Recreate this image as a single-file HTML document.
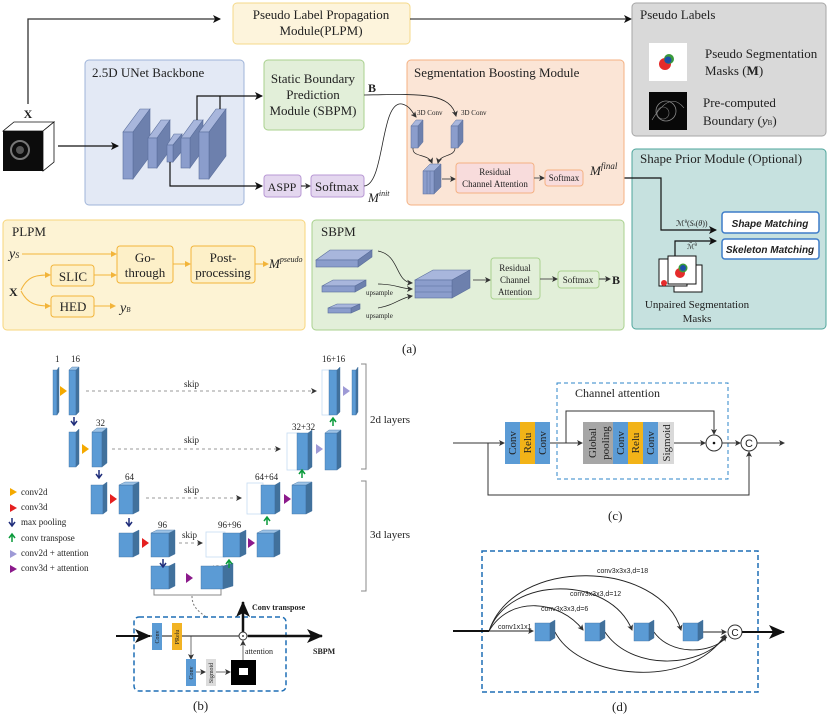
<!DOCTYPE html>
<html><head><meta charset="utf-8"><style>
html,body{margin:0;padding:0;background:#fff}
svg{display:block}
text{font-family:"Liberation Serif",serif;fill:#222}
.s{font-family:"Liberation Sans",sans-serif}
</style></head><body>
<svg width="830" height="720" viewBox="0 0 830 720" xmlns="http://www.w3.org/2000/svg">
<defs>
<marker id="ah" markerWidth="8" markerHeight="8" refX="7" refY="4" orient="auto" markerUnits="userSpaceOnUse"><path d="M0,0 L8,4 L0,8 L2,4z" fill="#111"/></marker>
<marker id="ahs" markerWidth="6" markerHeight="6" refX="5" refY="3" orient="auto" markerUnits="userSpaceOnUse"><path d="M0,0 L6,3 L0,6 L1.5,3z" fill="#333"/></marker>
<marker id="aho" markerWidth="6" markerHeight="6" refX="5" refY="3" orient="auto" markerUnits="userSpaceOnUse"><path d="M0,0 L6,3 L0,6z" fill="#f2b43a"/></marker>
<marker id="ahb" markerWidth="16" markerHeight="14" refX="15" refY="7" orient="auto" markerUnits="userSpaceOnUse"><path d="M0,0 L16,7 L0,14 L4,7z" fill="#111"/></marker>
</defs>

<!-- ===== (a) ===== -->
<polyline points="28,104 28,19 220,19" fill="none" stroke="#333" stroke-width="1.3" marker-end="url(#ah)"/>
<rect x="233" y="3" width="177" height="41" rx="4" fill="#fdf4dc" stroke="#f5d98a"/>
<text x="321" y="19" font-size="13" text-anchor="middle">Pseudo Label Propagation</text>
<text x="321" y="35" font-size="13" text-anchor="middle">Module(PLPM)</text>
<line x1="410" y1="19" x2="631" y2="19" stroke="#111" stroke-width="1" marker-end="url(#ah)"/>

<rect x="632" y="3" width="194" height="133" rx="4" fill="#d9d9d9" stroke="#a6a6a6"/>
<text x="640" y="19" font-size="13">Pseudo Labels</text>
<rect x="649" y="43" width="38" height="38" fill="#fff"/>
<circle cx="665" cy="64" r="6" fill="#e52b2b"/><circle cx="669" cy="59" r="5" fill="#3a9a3a"/><circle cx="668" cy="60" r="3.5" fill="#1d4fa8"/>
<text x="705" y="58" font-size="13">Pseudo Segmentation</text>
<text x="705" y="75" font-size="13">Masks (<tspan font-weight="bold">M</tspan>)</text>
<rect x="649" y="92" width="38" height="38" fill="#080808"/>
<circle cx="666" cy="111" r="10" fill="none" stroke="#888" stroke-width="0.8"/><circle cx="663" cy="113" r="6" fill="none" stroke="#777" stroke-width="0.6"/><path d="M652,120 Q670,90 684,108" fill="none" stroke="#999" stroke-width="0.6"/>
<text x="703" y="107" font-size="13">Pre-computed</text>
<text x="703" y="125" font-size="13">Boundary (<tspan font-style="italic">y</tspan><tspan font-size="7">B</tspan>)</text>

<rect x="632" y="149" width="194" height="180" rx="4" fill="#c6e1df" stroke="#4ea59b"/>
<text x="640" y="163" font-size="13">Shape Prior Module (Optional)</text>
<rect x="722" y="212" width="97" height="21" rx="3" fill="#fff" stroke="#3d7cc9" stroke-width="1.5"/>
<text x="770" y="227" font-size="10" class="s" font-weight="bold" font-style="italic" text-anchor="middle">Shape Matching</text>
<rect x="722" y="239" width="97" height="20" rx="3" fill="#fff" stroke="#3d7cc9" stroke-width="1.5"/>
<text x="770" y="253" font-size="10" class="s" font-weight="bold" font-style="italic" text-anchor="middle">Skeleton Matching</text>
<text x="676" y="226" font-size="8">ℳ<tspan font-size="5" dy="-3">θ</tspan><tspan dy="3">(</tspan><tspan font-style="italic">S</tspan><tspan font-size="5">s</tspan>(<tspan font-style="italic">θ</tspan>))</text>
<text x="687" y="249" font-size="7">ℳ̃<tspan font-size="5" dy="-3">θ</tspan></text>
<polyline points="584,178 661,178 661,230 716,230" fill="none" stroke="#111" stroke-width="1.2" marker-end="url(#ah)"/>
<polyline points="675,258 675,241 716,241" fill="none" stroke="#111" stroke-width="1.2" marker-end="url(#ah)"/>
<rect x="674" y="265" width="28" height="27" fill="#fff" stroke="#111"/>
<rect x="659" y="259" width="28" height="27" fill="#fff" stroke="#111"/>
<circle cx="664" cy="283" r="3" fill="#e52b2b"/>
<rect x="668" y="256" width="28" height="28" fill="#fff" stroke="#111"/>
<circle cx="680" cy="273" r="5" fill="#e52b2b"/><circle cx="683" cy="268" r="4.5" fill="#3a9a3a"/><circle cx="683" cy="268" r="3" fill="#1d4fa8"/>
<text x="697" y="308" font-size="11" text-anchor="middle">Unpaired Segmentation</text>
<text x="697" y="322" font-size="11" text-anchor="middle">Masks</text>

<!-- UNet backbone -->
<rect x="85" y="60" width="159" height="145" rx="4" fill="#e3e9f5" stroke="#9fb4d9"/>
<text x="92" y="77" font-size="13">2.5D UNet Backbone</text>
<!-- input cube -->
<polygon points="3,131 14,122 54,122 43,131" fill="#fff" stroke="#111" stroke-width="0.8"/>
<polygon points="43,131 54,122 54,162 43,171" fill="#fff" stroke="#111" stroke-width="0.8"/>
<rect x="3" y="131" width="40" height="40" fill="#0c0c0c"/>
<circle cx="20" cy="150" r="9" fill="none" stroke="#777" stroke-width="2"/><circle cx="20" cy="150" r="4" fill="#555"/>
<text x="28" y="118" font-size="12" font-weight="bold" text-anchor="middle">X</text>
<line x1="58" y1="146" x2="118" y2="146" stroke="#111" stroke-width="1.2" marker-end="url(#ah)"/>
<g stroke="#5a6e9c" stroke-width="0.6">
<polygon points="123,132 140,109 150,109 133,132" fill="#a8b6dc"/><polygon points="133,132 150,109 150,156 133,179" fill="#6d80ad"/><rect x="123" y="132" width="10" height="47" fill="#8b9dcc"/>
<polygon points="148,138 161,120 170,120 157,138" fill="#a8b6dc"/><polygon points="157,138 170,120 170,150 157,168" fill="#6d80ad"/><rect x="148" y="138" width="9" height="30" fill="#8b9dcc"/>
<polygon points="167,145 174,134 182,134 173,145" fill="#a8b6dc"/><polygon points="173,145 182,134 182,151 173,162" fill="#6d80ad"/><rect x="167" y="145" width="6" height="17" fill="#8b9dcc"/>
<polygon points="181,138 194,120 203,120 190,138" fill="#a8b6dc"/><polygon points="190,138 203,120 203,150 190,168" fill="#6d80ad"/><rect x="181" y="138" width="9" height="30" fill="#8b9dcc"/>
<polygon points="199,132 216,109 226,109 209,132" fill="#a8b6dc"/><polygon points="209,132 226,109 226,156 209,179" fill="#6d80ad"/><rect x="199" y="132" width="10" height="47" fill="#8b9dcc"/>
</g>
<polyline points="197,120 197,96 262,96" fill="none" stroke="#111" stroke-width="1.2" marker-end="url(#ah)"/>
<line x1="220" y1="109" x2="220" y2="96" stroke="#111" stroke-width="1.2"/>
<polyline points="170,162 170,186 262,186" fill="none" stroke="#111" stroke-width="1.2" marker-end="url(#ah)"/>
<rect x="264" y="60" width="100" height="70" rx="4" fill="#e2efd9" stroke="#a9d18e"/>
<text x="313" y="83" font-size="13" text-anchor="middle">Static Boundary</text>
<text x="313" y="99" font-size="13" text-anchor="middle">Prediction</text>
<text x="313" y="115" font-size="13" text-anchor="middle">Module (SBPM)</text>
<text x="368" y="92" font-size="12" font-weight="bold">B</text>
<rect x="264" y="175" width="37" height="22" rx="3" fill="#e4d7ef" stroke="#b898d4"/>
<text x="282" y="191" font-size="12" text-anchor="middle">ASPP</text>
<line x1="301" y1="186" x2="310" y2="186" stroke="#111" marker-end="url(#ahs)"/>
<rect x="311" y="175" width="53" height="22" rx="3" fill="#e4d7ef" stroke="#b898d4"/>
<text x="337" y="191" font-size="13" text-anchor="middle">Softmax</text>
<text x="368" y="202" font-size="13" font-style="italic">M<tspan font-size="8" dy="-6">init</tspan></text>

<!-- Segmentation boosting -->
<rect x="407" y="60" width="217" height="145" rx="4" fill="#fbe5d6" stroke="#f4b183"/>
<text x="414" y="77" font-size="13">Segmentation Boosting Module</text>
<path d="M364,186 C385,185 380,100 402,104 C410,106 412,112 416,117" fill="none" stroke="#222" stroke-width="0.8" marker-end="url(#ahs)"/>
<path d="M364,95 C420,94 450,92 456,116" fill="none" stroke="#222" stroke-width="0.8" marker-end="url(#ahs)"/>
<text x="417" y="115" font-size="7">3D Conv</text><text x="461" y="115" font-size="7">3D Conv</text>
<g stroke="#5a6e9c" stroke-width="0.5">
<polygon points="411,126 416,120 423,120 418,126" fill="#a8b6dc"/><polygon points="418,126 423,120 423,142 418,148" fill="#6d80ad"/><rect x="411" y="126" width="7" height="22" fill="#8b9dcc"/>
<polygon points="451,126 456,120 463,120 458,126" fill="#a8b6dc"/><polygon points="458,126 463,120 463,142 458,148" fill="#6d80ad"/><rect x="451" y="126" width="7" height="22" fill="#8b9dcc"/>
<polygon points="423,171 430,164 441,164 434,171" fill="#a8b6dc"/><polygon points="434,171 441,164 441,187 434,194" fill="#6d80ad"/><rect x="423" y="171" width="11" height="23" fill="#8b9dcc"/><line x1="427" y1="171" x2="427" y2="194"/><line x1="430" y1="171" x2="430" y2="194"/>
</g>
<path d="M413,148 C412,158 428,153 432,163" fill="none" stroke="#222" stroke-width="0.7" marker-end="url(#ahs)"/>
<path d="M455,148 C455,157 440,154 438,163" fill="none" stroke="#222" stroke-width="0.7" marker-end="url(#ahs)"/>
<line x1="442" y1="179" x2="455" y2="179" stroke="#555" marker-end="url(#ahs)"/>
<rect x="456" y="163" width="78" height="30" rx="3" fill="#f8dcdc" stroke="#f4b183"/>
<text x="495" y="175" font-size="9" text-anchor="middle">Residual</text>
<text x="495" y="187" font-size="9" text-anchor="middle">Channel Attention</text>
<line x1="534" y1="178" x2="544" y2="178" stroke="#555" marker-end="url(#ahs)"/>
<rect x="545" y="170" width="38" height="16" rx="3" fill="#f8dcdc" stroke="#f4b183"/>
<text x="564" y="181" font-size="9" text-anchor="middle">Softmax</text>
<text x="590" y="175" font-size="13" font-style="italic">M<tspan font-size="9" dy="-6">final</tspan></text>

<!-- PLPM lower -->
<rect x="3" y="220" width="302" height="110" rx="4" fill="#fdf3d4" stroke="#f7d57b"/>
<text x="12" y="236" font-size="13">PLPM</text>
<text x="9" y="258" font-size="14" font-style="italic">y<tspan font-size="8">S</tspan></text>
<line x1="22" y1="254" x2="116" y2="254" stroke="#f2b43a" stroke-width="1" marker-end="url(#aho)"/>
<rect x="117" y="246" width="56" height="37" rx="3" fill="#fdf0c8" stroke="#f2b43a"/>
<text x="145" y="262" font-size="13" text-anchor="middle">Go-</text>
<text x="145" y="277" font-size="13" text-anchor="middle">through</text>
<line x1="173" y1="264" x2="190" y2="264" stroke="#f2b43a" marker-end="url(#aho)"/>
<rect x="191" y="246" width="64" height="37" rx="3" fill="#fdf0c8" stroke="#f2b43a"/>
<text x="223" y="262" font-size="13" text-anchor="middle">Post-</text>
<text x="223" y="277" font-size="13" text-anchor="middle">processing</text>
<line x1="255" y1="264" x2="268" y2="264" stroke="#f2b43a" marker-end="url(#aho)"/>
<text x="269" y="268" font-size="13" font-style="italic">M<tspan font-size="8" dy="-6">pseudo</tspan></text>
<rect x="51" y="265" width="43" height="21" rx="3" fill="#fdf0c8" stroke="#f2b43a"/>
<text x="73" y="281" font-size="13" text-anchor="middle">SLIC</text>
<line x1="94" y1="275" x2="116" y2="275" stroke="#f2b43a" marker-end="url(#aho)"/>
<rect x="51" y="296" width="43" height="21" rx="3" fill="#fdf0c8" stroke="#f2b43a"/>
<text x="73" y="311" font-size="13" text-anchor="middle">HED</text>
<line x1="94" y1="306" x2="115" y2="306" stroke="#f2b43a" marker-end="url(#aho)"/>
<text x="120" y="312" font-size="14" font-style="italic">y<tspan font-size="7">B</tspan></text>
<text x="9" y="296" font-size="12" font-weight="bold">X</text>
<path d="M21,290 C28,275 38,275 50,275" fill="none" stroke="#f2b43a" marker-end="url(#aho)"/>
<path d="M21,291 C28,305 38,306 50,306" fill="none" stroke="#f2b43a" marker-end="url(#aho)"/>

<!-- SBPM lower -->
<rect x="312" y="220" width="312" height="110" rx="4" fill="#e2efd9" stroke="#a9d18e"/>
<text x="321" y="236" font-size="13">SBPM</text>
<g stroke="#5a6e9c" stroke-width="0.6">
<polygon points="316,260 330,250 372,250 358,260" fill="#a8b6dc"/><polygon points="358,260 372,250 372,257 358,267" fill="#6d80ad"/><rect x="316" y="260" width="42" height="7" fill="#8b9dcc"/>
<polygon points="322,286 333,280 366,280 355,286" fill="#a8b6dc"/><polygon points="355,286 366,280 366,286 355,292" fill="#6d80ad"/><rect x="322" y="286" width="33" height="6" fill="#8b9dcc"/>
<polygon points="328,308 337,304 360,304 351,308" fill="#a8b6dc"/><polygon points="351,308 360,304 360,309 351,313" fill="#6d80ad"/><rect x="328" y="308" width="23" height="5" fill="#8b9dcc"/>
<polygon points="415,280 433,270 470,270 452,280" fill="#a8b6dc"/><polygon points="452,280 470,270 470,288 452,298" fill="#6d80ad"/><rect x="415" y="280" width="37" height="18" fill="#8b9dcc"/>
<line x1="415" y1="286" x2="452" y2="286"/><line x1="415" y1="292" x2="452" y2="292"/>
</g>
<path d="M378,251 C400,255 395,282 412,283" fill="none" stroke="#222" stroke-width="0.7" marker-end="url(#ahs)"/>
<path d="M378,284 C395,284 402,289 412,289" fill="none" stroke="#222" stroke-width="0.7" marker-end="url(#ahs)"/>
<path d="M378,308 C395,305 400,298 412,296" fill="none" stroke="#222" stroke-width="0.7" marker-end="url(#ahs)"/>
<text x="366" y="295" font-size="7">upsample</text>
<text x="366" y="318" font-size="7">upsample</text>
<line x1="473" y1="280" x2="490" y2="280" stroke="#555" marker-end="url(#ahs)"/>
<rect x="491" y="258" width="49" height="41" rx="3" fill="#e2efd9" stroke="#a9d18e"/>
<text x="515" y="271" font-size="9" text-anchor="middle">Residual</text>
<text x="515" y="283" font-size="9" text-anchor="middle">Channel</text>
<text x="515" y="295" font-size="9" text-anchor="middle">Attention</text>
<line x1="540" y1="279" x2="557" y2="279" stroke="#555" marker-end="url(#ahs)"/>
<rect x="558" y="271" width="41" height="17" rx="3" fill="#e2efd9" stroke="#a9d18e"/>
<text x="578" y="283" font-size="9" text-anchor="middle">Softmax</text>
<line x1="599" y1="279" x2="610" y2="279" stroke="#333" marker-end="url(#ahs)"/>
<text x="612" y="284" font-size="12" font-weight="bold">B</text>

<text x="402" y="353" font-size="13">(a)</text>

<!-- ===== (b) ===== -->
<g font-size="9">
<text x="55" y="362">1</text><text x="71" y="362">16</text><text x="96" y="426">32</text><text x="125" y="480">64</text><text x="158" y="528">96</text>
<text x="322" y="362">16+16</text><text x="292" y="430">32+32</text><text x="255" y="480">64+64</text><text x="218" y="528">96+96</text><text x="211" y="572">128</text>
<text x="184" y="387">skip</text><text x="184" y="443">skip</text><text x="184" y="493">skip</text><text x="182" y="538">skip</text>
</g>
<g stroke="#777" stroke-width="0.8" stroke-dasharray="3,3" fill="none">
<line x1="86" y1="391" x2="316" y2="391" marker-end="url(#ahs)"/>
<line x1="112" y1="449" x2="280" y2="449" marker-end="url(#ahs)"/>
<line x1="146" y1="498" x2="241" y2="498" marker-end="url(#ahs)"/>
<line x1="179" y1="543" x2="202" y2="543" marker-end="url(#ahs)"/>
</g>
<g stroke="#c6dcf2" stroke-width="0.8" fill="#fff">
<rect x="322" y="370" width="9" height="45"/><rect x="287" y="433" width="12" height="37"/><rect x="247" y="483" width="16" height="31"/><rect x="206" y="532" width="19" height="25"/>
</g>
<g stroke="#3f6f9e" stroke-width="0.4">
<!-- helper shape: front + side + top -->
<rect x="53" y="370" width="4" height="45" fill="#5b9bd5"/><polygon points="57,370 59,367 59,412 57,415" fill="#41719c"/>
<rect x="69" y="370" width="7" height="45" fill="#5b9bd5"/><polygon points="76,370 79,367 79,412 76,415" fill="#41719c"/><polygon points="69,370 72,367 79,367 76,370" fill="#9dc3e6"/>
<rect x="69" y="432" width="7" height="35" fill="#5b9bd5"/><polygon points="76,432 79,429 79,464 76,467" fill="#41719c"/>
<rect x="92" y="432" width="10" height="35" fill="#5b9bd5"/><polygon points="102,432 107,428 107,463 102,467" fill="#41719c"/><polygon points="92,432 97,428 107,428 102,432" fill="#9dc3e6"/>
<rect x="91" y="485" width="12" height="29" fill="#5b9bd5"/><polygon points="103,485 107,482 107,511 103,514" fill="#41719c"/>
<rect x="119" y="485" width="14" height="29" fill="#5b9bd5"/><polygon points="133,485 139,482 139,511 133,514" fill="#41719c"/><polygon points="119,485 125,482 139,482 133,485" fill="#9dc3e6"/>
<rect x="119" y="533" width="14" height="24" fill="#5b9bd5"/><polygon points="133,533 139,530 139,554 133,557" fill="#41719c"/>
<rect x="151" y="533" width="18" height="24" fill="#5b9bd5"/><polygon points="169,533 175,530 175,554 169,557" fill="#41719c"/><polygon points="151,533 157,530 175,530 169,533" fill="#9dc3e6"/>
<rect x="151" y="566" width="18" height="23" fill="#5b9bd5"/><polygon points="169,566 175,563 175,586 169,589" fill="#41719c"/>
<rect x="201" y="566" width="22" height="23" fill="#5b9bd5"/><polygon points="223,566 233,563 233,586 223,589" fill="#41719c"/>
<rect x="223" y="533" width="17" height="24" fill="#5b9bd5"/><polygon points="240,533 246,530 246,554 240,557" fill="#41719c"/>
<rect x="257" y="533" width="17" height="24" fill="#5b9bd5"/><polygon points="274,533 280,530 280,554 274,557" fill="#41719c"/><polygon points="257,533 263,530 280,530 274,533" fill="#9dc3e6"/>
<rect x="261" y="485" width="14" height="29" fill="#5b9bd5"/><polygon points="275,485 280,482 280,511 275,514" fill="#41719c"/>
<rect x="292" y="485" width="14" height="29" fill="#5b9bd5"/><polygon points="306,485 312,482 312,511 306,514" fill="#41719c"/><polygon points="292,485 298,482 312,482 306,485" fill="#9dc3e6"/>
<rect x="297" y="433" width="11" height="37" fill="#5b9bd5"/><polygon points="308,433 312,430 312,467 308,470" fill="#41719c"/>
<rect x="325" y="433" width="12" height="37" fill="#5b9bd5"/><polygon points="337,433 341,430 341,467 337,470" fill="#41719c"/><polygon points="325,433 329,430 341,430 337,433" fill="#9dc3e6"/>
<rect x="329" y="370" width="8" height="45" fill="#5b9bd5"/><polygon points="337,370 340,367 340,412 337,415" fill="#41719c"/>
<rect x="352" y="370" width="4" height="45" fill="#5b9bd5"/><polygon points="356,370 358,367 358,412 356,415" fill="#41719c"/>
</g>
<!-- triangles -->
<g>
<polygon points="60,386 60,396 67,391" fill="#f4a900"/><polygon points="82,444 82,454 89,449" fill="#f4a900"/>
<polygon points="110,494 110,504 117,499" fill="#e52020"/><polygon points="142,538 142,548 149,543" fill="#e52020"/>
<polygon points="186,573 186,583 193,578" fill="#8b1a8b"/><polygon points="248,538 248,548 255,543" fill="#8b1a8b"/><polygon points="284,494 284,504 291,499" fill="#8b1a8b"/>
<polygon points="316,444 316,454 323,449" fill="#9e9ad6"/><polygon points="343,386 343,396 350,391" fill="#9e9ad6"/>
</g>
<g stroke="#1f2d7a" stroke-width="1.5" fill="none">
<path d="M74,417 v7 M71,421 l3,4 l3,-4"/><path d="M99,470 v7 M96,474 l3,4 l3,-4"/><path d="M129,518 v7 M126,522 l3,4 l3,-4"/><path d="M163,559 v7 M160,563 l3,4 l3,-4"/>
</g>
<g stroke="#0a9a3a" stroke-width="1.5" fill="none">
<path d="M229,568 v-7 M226,564 l3,-4 l3,4"/><path d="M267,525 v-7 M264,521 l3,-4 l3,4"/><path d="M302,478 v-7 M299,474 l3,-4 l3,4"/><path d="M333,426 v-7 M330,422 l3,-4 l3,4"/>
</g>
<g stroke="#888" fill="none"><polyline points="361,364 366,364 366,469 361,469"/><polyline points="361,481 366,481 366,591 361,591"/></g>
<text x="370" y="423" font-size="11">2d layers</text>
<text x="370" y="538" font-size="11">3d layers</text>
<g font-size="9">
<polygon points="10,488 10,496 17,492" fill="#f4a900"/><text x="21" y="495">conv2d</text>
<polygon points="10,504 10,512 17,508" fill="#e52020"/><text x="21" y="510">conv3d</text>
<path d="M12,518 v8 M9,522 l3,4 l3,-4" stroke="#1f2d7a" stroke-width="1.5" fill="none"/><text x="21" y="525">max pooling</text>
<path d="M12,542 v-8 M9,538 l3,-4 l3,4" stroke="#0a9a3a" stroke-width="1.5" fill="none"/><text x="21" y="541">conv transpose</text>
<polygon points="10,550 10,558 17,554" fill="#9e9ad6"/><text x="21" y="556">conv2d + attention</text>
<polygon points="10,565 10,573 17,569" fill="#8b1a8b"/><text x="21" y="571">conv3d + attention</text>
</g>
<polyline points="154,589 154,595 221,595 221,589" fill="none" stroke="#888"/>
<path d="M192,596 C192,608 200,612 206,617" fill="none" stroke="#777" stroke-dasharray="2,2"/>
<rect x="134" y="617" width="152" height="74" rx="5" fill="none" stroke="#1f6fb5" stroke-width="1.5" stroke-dasharray="5,3"/>
<line x1="116" y1="636" x2="150" y2="636" stroke="#111" stroke-width="2" marker-end="url(#ahb)"/>
<line x1="150" y1="636" x2="322" y2="636" stroke="#111" stroke-width="1"/>
<line x1="248" y1="636" x2="322" y2="636" stroke="#111" stroke-width="2.5" marker-end="url(#ahb)"/>
<line x1="243" y1="632" x2="243" y2="602" stroke="#111" stroke-width="2.5" marker-end="url(#ahb)"/>
<rect x="152" y="623" width="10" height="27" fill="#5b9bd5"/><text transform="translate(159,637) rotate(-90)" font-size="6" text-anchor="middle">Conv</text>
<rect x="172" y="623" width="10" height="27" fill="#f2b324"/><text transform="translate(179,637) rotate(-90)" font-size="6" text-anchor="middle">PRelu</text>
<polyline points="191,636 191,659" fill="none" stroke="#333" stroke-width="0.7" marker-end="url(#ahs)"/>
<rect x="186" y="659" width="10" height="27" fill="#5b9bd5"/><text transform="translate(193,673) rotate(-90)" font-size="6" text-anchor="middle">Conv</text>
<rect x="206" y="659" width="10" height="27" fill="#dcdcdc"/><text transform="translate(213,673) rotate(-90)" font-size="6" text-anchor="middle">Sigmoid</text>
<line x1="196" y1="672" x2="205" y2="672" stroke="#333" stroke-width="0.7" marker-end="url(#ahs)"/>
<line x1="216" y1="672" x2="230" y2="672" stroke="#333" stroke-width="0.7" marker-end="url(#ahs)"/>
<rect x="231" y="660" width="25" height="25" fill="#000"/><rect x="239" y="668" width="9" height="7" fill="#fff"/>
<line x1="243" y1="660" x2="243" y2="641" stroke="#333" stroke-width="0.7" marker-end="url(#ahs)"/>
<circle cx="243" cy="636" r="4" fill="#fff" stroke="#333"/><circle cx="243" cy="636" r="0.9" fill="#111"/>
<text x="245" y="654" font-size="8">attention</text>
<text x="252" y="610" font-size="8" font-weight="bold">Conv transpose</text>
<text x="313" y="654" font-size="8" font-weight="bold">SBPM</text>
<text x="193" y="710" font-size="13">(b)</text>

<!-- ===== (c) ===== -->
<rect x="557" y="383" width="171" height="96" fill="none" stroke="#2e86c8" stroke-width="1" stroke-dasharray="4,3"/>
<text x="575" y="397" font-size="12">Channel attention</text>
<line x1="453" y1="443" x2="504" y2="443" stroke="#333" marker-end="url(#ahs)"/>
<polyline points="488,443 488,495 749,495 749,452" fill="none" stroke="#333" marker-end="url(#ahs)"/>
<rect x="505" y="422" width="15" height="42" fill="#5b9bd5"/><rect x="520" y="422" width="15" height="42" fill="#f2b318"/><rect x="535" y="422" width="15" height="42" fill="#5b9bd5"/>
<line x1="550" y1="443" x2="582" y2="443" stroke="#333" marker-end="url(#ahs)"/>
<polyline points="566,443 566,411 714,411 714,434" fill="none" stroke="#333" marker-end="url(#ahs)"/>
<rect x="583" y="422" width="30" height="42" fill="#a6a6a6"/><rect x="613" y="422" width="15" height="42" fill="#5b9bd5"/><rect x="628" y="422" width="15" height="42" fill="#f2b318"/><rect x="643" y="422" width="15" height="42" fill="#5b9bd5"/><rect x="658" y="422" width="16" height="42" fill="#d9d9d9"/>
<g font-size="11" text-anchor="middle">
<text transform="translate(516,443) rotate(-90)">Conv</text><text transform="translate(531,443) rotate(-90)">Relu</text><text transform="translate(546,443) rotate(-90)">Conv</text>
<text transform="translate(596,443) rotate(-90)">Global</text><text transform="translate(609,443) rotate(-90)">pooling</text>
<text transform="translate(624,443) rotate(-90)">Conv</text><text transform="translate(639,443) rotate(-90)">Relu</text><text transform="translate(654,443) rotate(-90)">Conv</text><text transform="translate(670,443) rotate(-90)">Sigmoid</text>
</g>
<line x1="674" y1="443" x2="705" y2="443" stroke="#333" marker-end="url(#ahs)"/>
<circle cx="714" cy="443" r="8" fill="#fff" stroke="#333"/><circle cx="714" cy="443" r="1.3" fill="#111"/>
<line x1="722" y1="443" x2="740" y2="443" stroke="#333" marker-end="url(#ahs)"/>
<circle cx="749" cy="443" r="8" fill="#fff" stroke="#333"/><text x="749" y="447" font-size="11" text-anchor="middle" class="s">C</text>
<line x1="757" y1="443" x2="784" y2="443" stroke="#333" marker-end="url(#ahs)"/>
<text x="608" y="520" font-size="13">(c)</text>

<!-- ===== (d) ===== -->
<rect x="482" y="551" width="276" height="141" fill="none" stroke="#1f6fb5" stroke-width="1.5" stroke-dasharray="5,3"/>
<line x1="453" y1="631" x2="489" y2="631" stroke="#111" stroke-width="2"/>
<g fill="none" stroke="#222" stroke-width="0.9">
<line x1="489" y1="631" x2="533" y2="631" marker-end="url(#ahs)"/>
<path d="M489,631 C510,595 560,600 583,630" marker-end="url(#ahs)"/>
<path d="M489,631 C510,575 610,575 632,630" marker-end="url(#ahs)"/>
<path d="M489,631 C515,555 660,560 681,630" marker-end="url(#ahs)"/>
<path d="M555,632 C580,680 690,690 725,635" marker-end="url(#ahs)"/>
<path d="M605,632 C630,670 700,670 726,636" marker-end="url(#ahs)"/>
<path d="M654,632 C670,655 710,655 727,637"/>
<line x1="703" y1="632" x2="726" y2="632" marker-end="url(#ahs)"/>
</g>
<g stroke="#3f6f9e" stroke-width="0.4">
<rect x="535" y="623" width="15" height="18" fill="#5b9bd5"/><polygon points="550,623 555,620 555,638 550,641" fill="#41719c"/>
<rect x="585" y="623" width="15" height="18" fill="#5b9bd5"/><polygon points="600,623 605,620 605,638 600,641" fill="#41719c"/>
<rect x="634" y="623" width="15" height="18" fill="#5b9bd5"/><polygon points="649,623 654,620 654,638 649,641" fill="#41719c"/>
<rect x="683" y="623" width="15" height="18" fill="#5b9bd5"/><polygon points="698,623 703,620 703,638 698,641" fill="#41719c"/>
</g>
<circle cx="735" cy="632" r="7" fill="#fff" stroke="#333"/><text x="735" y="636" font-size="10" text-anchor="middle" class="s">C</text>
<line x1="742" y1="632" x2="784" y2="632" stroke="#111" stroke-width="2" marker-end="url(#ahb)"/>
<g font-size="7" class="s" fill="#444">
<text x="597" y="573" class="s">conv3x3x3,d=18</text>
<text x="570" y="596" class="s">conv3x3x3,d=12</text>
<text x="541" y="611" class="s">conv3x3x3,d=6</text>
<text x="498" y="629" class="s">conv1x1x1</text>
</g>
<text x="612" y="711" font-size="13">(d)</text>
</svg>
</body></html>
